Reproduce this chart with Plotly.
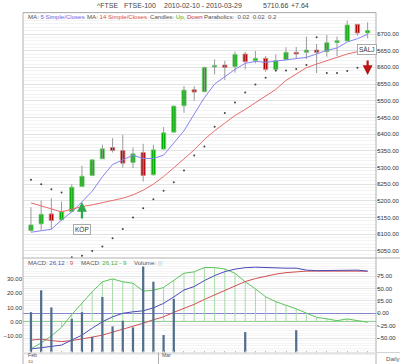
import plotly.graph_objects as go

# ---------------- data ----------------
dates = ["2010-02-10", "2010-02-11", "2010-02-12", "2010-02-15", "2010-02-16", "2010-02-17",
         "2010-02-18", "2010-02-19", "2010-02-22", "2010-02-23", "2010-02-24", "2010-02-25",
         "2010-02-26", "2010-03-01", "2010-03-02", "2010-03-03", "2010-03-04", "2010-03-05",
         "2010-03-08", "2010-03-09", "2010-03-10", "2010-03-11", "2010-03-12", "2010-03-15",
         "2010-03-16", "2010-03-17", "2010-03-18", "2010-03-19", "2010-03-22", "2010-03-23",
         "2010-03-24", "2010-03-25", "2010-03-26", "2010-03-29"]
opens = [5111, 5131, 5161, 5143, 5168, 5243, 5276, 5326, 5360, 5351, 5315, 5345, 5278, 5355,
         5406, 5485, 5533, 5527, 5601, 5607, 5602, 5640, 5620, 5627, 5594, 5623, 5645, 5645,
         5652, 5647, 5674, 5679, 5729, 5703.02]
highs = [5181, 5201, 5208, 5198, 5250, 5305, 5325, 5368, 5388, 5398, 5360, 5371, 5368, 5421,
         5486, 5544, 5544, 5602, 5624, 5620, 5647, 5647, 5649, 5634, 5639, 5660, 5661, 5692,
         5670, 5697, 5692, 5740, 5730, 5735]
lows = [5108, 5113, 5115, 5141, 5166, 5243, 5274, 5326, 5345, 5300, 5298, 5258, 5276, 5355,
        5404, 5464, 5500, 5526, 5579, 5562, 5584, 5594, 5612, 5587, 5587, 5622, 5627, 5625,
        5583, 5632, 5634, 5679, 5695, 5687]
closes = [5128, 5160, 5141, 5167, 5241, 5274, 5323, 5356, 5351, 5313, 5341, 5276, 5353, 5404,
          5484, 5532, 5526, 5600, 5606, 5600, 5639, 5617, 5627, 5594, 5620, 5645, 5640, 5652,
          5645, 5674, 5680, 5727, 5703.02, 5710.66]
ma5 = [5106, 5110, 5115, 5143, 5167, 5197, 5229, 5272, 5309, 5323, 5337, 5327, 5327, 5337,
       5372, 5410, 5460, 5509, 5550, 5573, 5594, 5612, 5618, 5615, 5619, 5621, 5625, 5630,
       5640, 5651, 5658, 5676, 5686, 5699]
ma14 = [5194, 5185, 5176, 5167, 5175, 5183, 5188, 5194, 5201, 5208, 5218, 5232, 5250, 5273,
        5299, 5325, 5353, 5384, 5410, 5433, 5456, 5474, 5494, 5514, 5534, 5561, 5581, 5599,
        5610, 5620, 5631, 5640, 5647, 5655]
sar = [5263, 5250, 5235, 5225, 5031, 5036, 5050, 5063, 5088, 5116, 5150, 5178, 5205, 5230,
       5256, 5291, 5336, 5363, 5422, 5463, 5495, 5525, 5549, 5569, 5591, 5591, 5595, 5607,
       5690, 5583, 5583, 5589, 5599, 5602]
macd_line = [-72, -69, -67, -64, -54, -44, -30, -17, -7, 0, 3, 5, 11, 20, 33, 47, 54, 66, 76,
             84, 89, 92, 93, 92, 91, 91, 91, 87, 86, 86, 86, 87, 87, 85]
macd_signal = [-54, -52, -55, -57, -55, -52, -48, -44, -38, -32, -27, -20, -13, -7, 2, 10, 18,
               28, 37, 47, 56, 64, 70, 75, 79, 82, 84, 85, 85, 85, 85, 85, 85, 85]
macd_hist = [-19, -15, -10, -4, 5, 13, 21, 28, 30, 28, 27, 21.5, 22, 24, 29, 34, 35, 38, 38, 37,
             34, 28, 23, 17.5, 14, 11.7, 9, 6, 3, 2, 0.7, 1.9, 0.7, -0.4]
volume = [43, 66, 48, 0, 36, 43, 17, 59, 28, 34, 27, 91, 75, 19, 57, 0, 0, 0, 0, 0, 0, 22, 0,
          0, 0, 0, 24, 0, 0, 0, 0, 0, 0, 0]
price_ticks = [5050, 5100, 5150, 5200, 5250, 5300, 5350, 5400, 5450, 5500, 5550, 5600, 5650, 5700]
macd_left_ticks = [-10, 0, 10, 20, 30]
macd_right_ticks = [-50, -25, 0, 25, 50, 75]
month_labels = ["Feb", "Mar"]
buy_index, sell_index = 5, 33
title_parts = ["^FTSE", "FTSE-100", "2010-02-10 - 2010-03-29", "5710.66", "+7.64"]

x = list(range(len(dates)))
FONT = "Liberation Sans, Arial, sans-serif"

# pixel helpers (plot area: x 23..376, y 12..353)
def px(v):
    return (v - 23) / 353.0

def py(v):
    return (353 - v) / 341.0

fig = go.Figure()

# ---------- main panel ----------
wx, wy = [], []
for i in x:
    wx += [i, i, None]
    wy += [lows[i], highs[i], None]
fig.add_trace(go.Scatter(x=wx, y=wy, mode="lines", line=dict(color="#9a9a9a", width=1),
                         xaxis="x", yaxis="y"))

up = [i for i in x if closes[i] >= opens[i]]
dn = [i for i in x if closes[i] < opens[i]]
fig.add_trace(go.Bar(x=up, y=[max(closes[i] - opens[i], 2) for i in up],
                     base=[opens[i] for i in up], width=0.42,
                     marker=dict(color="#00b000", line=dict(color="#7fd27f", width=0.8)),
                     xaxis="x", yaxis="y"))
fig.add_trace(go.Bar(x=dn, y=[max(opens[i] - closes[i], 2) for i in dn],
                     base=[closes[i] for i in dn], width=0.42,
                     marker=dict(color="#b00000", line=dict(color="#d88080", width=0.8)),
                     xaxis="x", yaxis="y"))

fig.add_trace(go.Scatter(x=x, y=ma5, mode="lines", line=dict(color="#8585f0", width=1),
                         xaxis="x", yaxis="y"))
fig.add_trace(go.Scatter(x=x, y=ma14, mode="lines", line=dict(color="#ea6c6c", width=1),
                         xaxis="x", yaxis="y"))
fig.add_trace(go.Scatter(x=x, y=sar, mode="markers", marker=dict(color="#444", size=2),
                         xaxis="x", yaxis="y"))

# ---------- MACD / volume panel ----------
sx, sy = [], []
for i in x:
    sx += [i, i, None]
    sy += [0, macd_hist[i], None]
fig.add_trace(go.Scatter(x=sx, y=sy, mode="lines", line=dict(color="#a8dca8", width=1),
                         xaxis="x2", yaxis="y2"))
fig.add_trace(go.Scatter(x=x, y=macd_hist, mode="lines", line=dict(color="#5cc45c", width=1),
                         xaxis="x2", yaxis="y2"))
fig.add_trace(go.Bar(x=x, y=volume, width=0.22, marker=dict(color="#526e8c", line=dict(width=0)),
                     xaxis="x2", yaxis="y4"))
fig.add_trace(go.Scatter(x=x, y=macd_signal, mode="lines", line=dict(color="#d05050", width=1),
                         xaxis="x2", yaxis="y3"))
fig.add_trace(go.Scatter(x=x, y=macd_line, mode="lines", line=dict(color="#4a4ab8", width=1),
                         xaxis="x2", yaxis="y3"))

xr = [-0.78, 33.82]
tickfont = dict(family=FONT, size=6, color="#333")

fig.update_layout(
    template="none",
    width=400, height=364, autosize=False,
    margin=dict(l=23, r=24, t=12, b=11, pad=0),
    paper_bgcolor="white", plot_bgcolor="white",
    showlegend=False, hovermode=False, barmode="overlay",
    font=dict(family=FONT, size=6, color="#333"),
    xaxis=dict(domain=[0, 1], range=xr, showticklabels=False, showgrid=False, zeroline=False,
               ticks="", showline=False, anchor="y", automargin=False),
    yaxis=dict(domain=[0.2786, 1], range=[5028.9, 5765.9], side="right", anchor="x",
               tickvals=price_ticks, tickformat=".2f", ticks="outside", ticklen=2,
               ticklabelstandoff=-3,
               tickcolor="#aaa", tickfont=tickfont, showgrid=True, gridcolor="#e2e2e2",
               gridwidth=1, zeroline=False, showline=False, automargin=False,
               minor=dict(tickmode="linear", tick0=5000, dtick=10, showgrid=True,
                          gridcolor="#f3f3f3", ticks="")),
    xaxis2=dict(domain=[0, 1], range=xr, anchor="y2", tickvals=x, ticks="inside", ticklen=2,
                tickcolor="#bbb", showticklabels=False, showgrid=False, zeroline=False,
                showline=False, automargin=False),
    yaxis2=dict(domain=[0, 0.2786], range=[-22.0, 44.7], side="left", anchor="x2",
                tickvals=macd_left_ticks, tickformat=".2f", ticks="", tickfont=tickfont,
                showgrid=False, zeroline=True, zerolinecolor="#8fd08f", zerolinewidth=1,
                showline=False, automargin=False),
    yaxis3=dict(overlaying="y2", range=[-80.0, 111.5], side="right", anchor="x2",
                tickvals=macd_right_ticks, tickformat=".2f", ticks="outside", ticklen=2,
                ticklabelstandoff=-3,
                tickcolor="#aaa", tickfont=tickfont, showgrid=True, gridcolor="#e6e6e6",
                zeroline=True, zerolinecolor="#8484cc", zerolinewidth=1, showline=False,
                automargin=False,
                minor=dict(tickmode="linear", tick0=0, dtick=5, showgrid=True,
                           gridcolor="#f5f5f5", ticks="")),
    yaxis4=dict(overlaying="y2", range=[0, 100], visible=False, anchor="x2", automargin=False),
)

line_col = "#b0b0b0"
shapes = [
    dict(type="line", xref="paper", yref="paper", x0=0, x1=1, y0=py(12.5), y1=py(12.5),
         line=dict(color=line_col, width=1)),
    dict(type="line", xref="paper", yref="paper", x0=0, x1=0, y0=py(12.5), y1=py(364),
         line=dict(color=line_col, width=1)),
    dict(type="line", xref="paper", yref="paper", x0=1, x1=1, y0=py(12.5), y1=py(364),
         line=dict(color=line_col, width=1)),
    dict(type="line", xref="paper", yref="paper", x0=0, x1=px(400), y0=py(258), y1=py(258),
         line=dict(color=line_col, width=1)),
    dict(type="rect", xref="paper", yref="paper", x0=0, x1=1, y0=py(352.3), y1=py(354.6),
         fillcolor="#e2e2e2", line=dict(width=0)),
    dict(type="line", xref="paper", yref="paper", x0=1, x1=px(400), y0=py(352.6), y1=py(352.6),
         line=dict(color="#d0d0d0", width=1)),
    dict(type="line", xref="x2", yref="paper", x0=12.5, x1=12.5, y0=py(352.5), y1=py(364),
         line=dict(color=line_col, width=1)),
]
fig.update_layout(shapes=shapes)

ann = []
# title
title_x = [95.7, 122.7, 163, 262, 290]
for t, tx in zip(title_parts, title_x):
    ann.append(dict(text=t, xref="paper", yref="paper", x=px(tx), y=py(5.5), xanchor="left",
                    yanchor="middle", showarrow=False, borderpad=0,
                    font=dict(family=FONT, size=7, color="#444")))

def legend_item(html, xpix, ypix, size=6.1):
    return dict(text=html, xref="paper", yref="paper", x=px(xpix), y=py(ypix), xanchor="left",
                yanchor="middle", showarrow=False, borderpad=0,
                font=dict(family=FONT, size=size, color="#555"))

ann.append(legend_item("MA: <span style='color:#6a6ae8'>5 Simple/Closes</span>", 26.5, 16.5))
ann.append(legend_item("MA: <span style='color:#e05050'>14 Simple/Closes</span>", 85.5, 16.5))
ann.append(legend_item("Candles: <span style='color:#33b033'>Up,</span> "
                       "<span style='color:#cc3333'>Down</span>", 148.8, 16.5))
ann.append(legend_item("Parabolics:  0.02  0.02  0.2", 202.5, 16.5))

ann.append(legend_item("MACD: <span style='color:#5050b8'>26,12</span> : "
                       "<span style='color:#d05050'>9</span>", 26.5, 262.3))
ann.append(legend_item("MACD: <span style='color:#44b044'>26,12 - 9</span>", 80, 262.3))
ann.append(legend_item("Volume: <span style='color:#c0c0c0'>|||</span>", 133, 262.3))

# month labels / bottom labels
ann.append(legend_item(month_labels[0], 26.5, 355.2, 5.2))
ann.append(legend_item(month_labels[1], 160.5, 355.2, 5.2))
ann.append(legend_item("10", 26.5, 361.2, 4.4))
ann.append(legend_item("Daily", 385, 358.5))

# buy / sell signals
ann.append(dict(x=buy_index, y=5197, xref="x", yref="y", text="", showarrow=True,
                ax=0, ay=18, arrowhead=2, arrowsize=0.9, arrowwidth=2.2, arrowcolor="#2aa84a"))
ann.append(dict(x=buy_index, y=5114, xref="x", yref="y", text="KÖP", showarrow=False,
                bgcolor="white", bordercolor="#aaaaaa", borderwidth=1, borderpad=1,
                font=dict(family=FONT, size=6.5, color="#333")))
ann.append(dict(x=sell_index, y=5577, xref="x", yref="y", text="", showarrow=True,
                ax=0, ay=-16, arrowhead=2, arrowsize=0.9, arrowwidth=2.2, arrowcolor="#b81414"))
ann.append(dict(x=sell_index - 0.08, y=5655, xref="x", yref="y", text="SÄLJ", showarrow=False,
                bgcolor="white", bordercolor="#aaaaaa", borderwidth=1, borderpad=1,
                font=dict(family=FONT, size=6.5, color="#333")))

fig.update_layout(annotations=ann)

fig.write_html("out.html", config={"displayModeBar": False, "staticPlot": True},
               post_script="document.body.style.margin='0';document.body.style.padding='0';")
